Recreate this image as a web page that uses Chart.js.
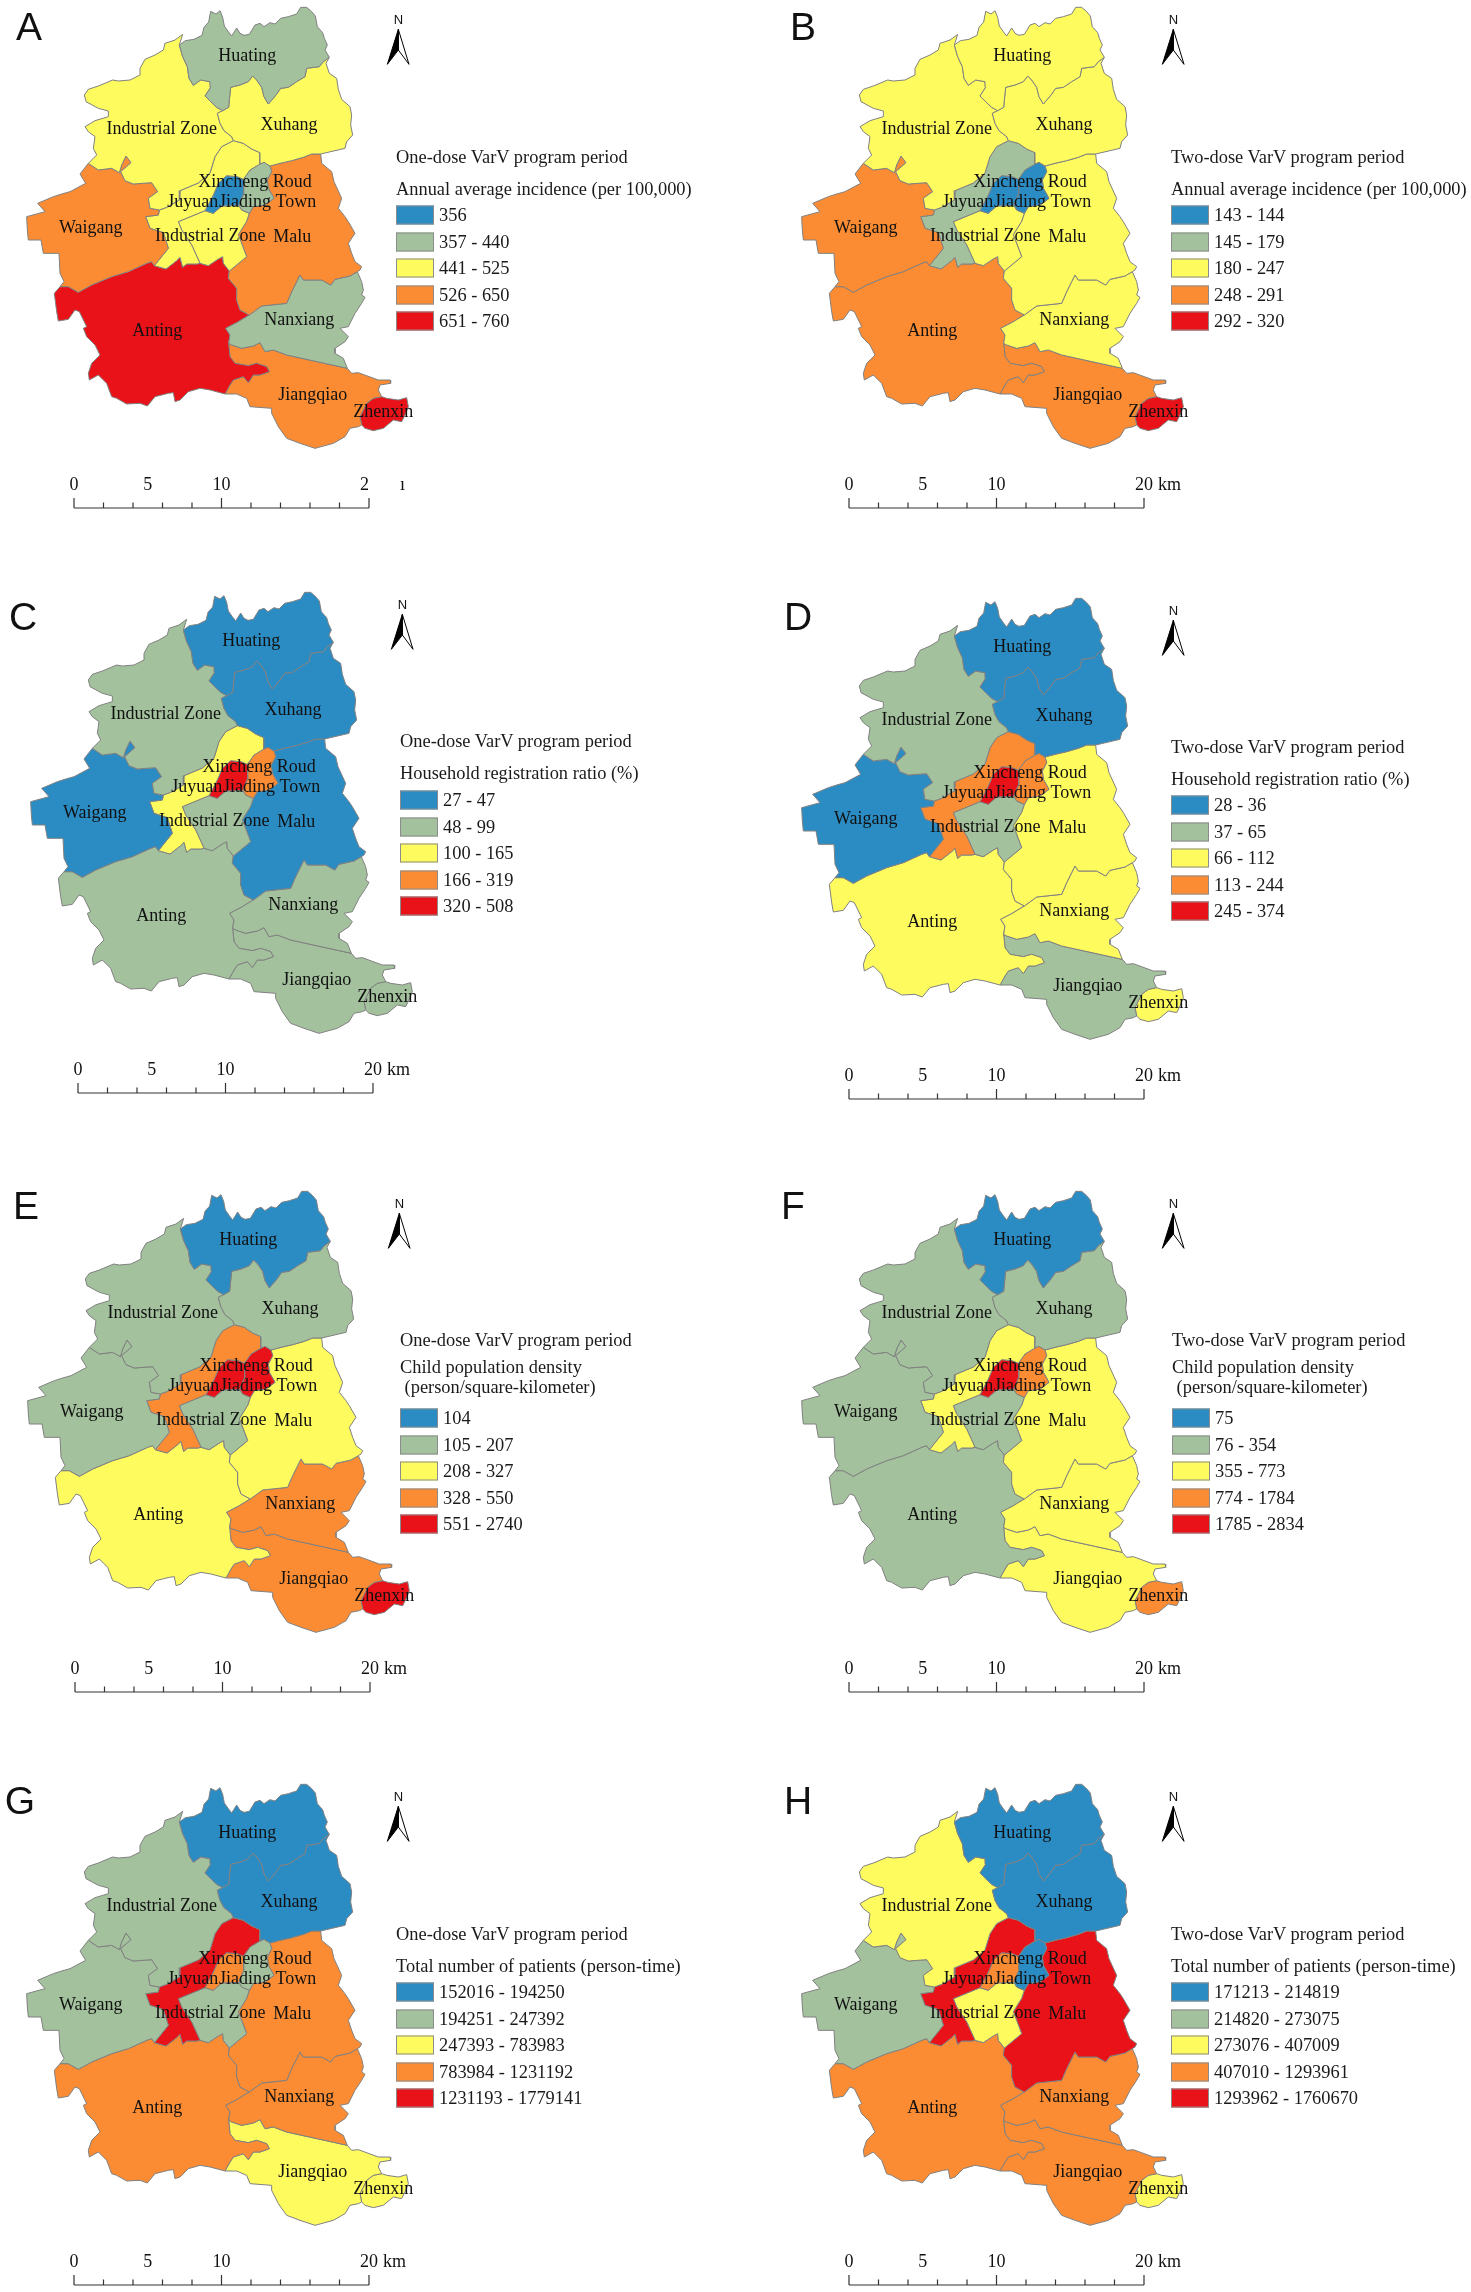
<!DOCTYPE html>
<html>
<head>
<meta charset="utf-8">
<title>VarV maps</title>
<script src="https://cdn.jsdelivr.net/npm/chart.js@4"></script>
<style>
html, body { margin: 0; padding: 0; background: #fff; }
#page { position: relative; width: 1471px; height: 2292px; overflow: hidden; font-family: "Liberation Serif", serif; color: #1a1a1a; }
canvas { position: absolute; }
.letter { position: absolute; font-family: "Liberation Sans", sans-serif; font-size: 39px; line-height: 39px; color: #111; transform: translate(-50%, -50%); }
.ltext { position: absolute; font-size: 18.4px; line-height: 20px; white-space: pre; transform: translateY(-50%); }
.swatch { position: absolute; width: 36px; height: 17px; border: 1px solid #8c8c8c; transform: translateY(-50%); }
</style>
</head>
<body>
<div id="page"></div>
<script>
// towns in the order used by the class lists below
const regionNames = ['Huating', 'Xuhang', 'Industrial Zone N', 'Waigang', 'Juyuan', 'Jiading Town', 'Xincheng Roud', 'Industrial Zone S', 'Malu', 'Nanxiang', 'Anting', 'Jiangqiao', 'Zhenxin'];

// class of each town per panel (0 = lowest class, 4 = highest)
const classesA = [1, 2, 2, 3, 2, 0, 1, 2, 3, 1, 4, 3, 4];
const classesB = [2, 2, 2, 3, 1, 0, 0, 2, 2, 2, 3, 3, 4];
const classesC = [0, 0, 1, 0, 2, 4, 3, 1, 0, 1, 1, 1, 1];
const classesD = [0, 0, 1, 0, 3, 4, 3, 1, 2, 2, 2, 1, 2];
const classesE = [0, 1, 1, 1, 3, 4, 4, 1, 2, 3, 2, 3, 4];
const classesF = [0, 1, 1, 1, 2, 4, 3, 1, 2, 2, 1, 2, 3];
const classesG = [0, 0, 1, 1, 4, 3, 1, 1, 3, 3, 3, 2, 2];
const classesH = [0, 0, 2, 1, 4, 3, 0, 2, 4, 3, 3, 3, 2];

const legendA = ['356', '357 - 440', '441 - 525', '526 - 650', '651 - 760'];
const legendB = ['143 - 144', '145 - 179', '180 - 247', '248 - 291', '292 - 320'];
const legendC = ['27 - 47', '48 - 99', '100 - 165', '166 - 319', '320 - 508'];
const legendD = ['28 - 36', '37 - 65', '66 - 112', '113 - 244', '245 - 374'];
const legendE = ['104', '105 - 207', '208 - 327', '328 - 550', '551 - 2740'];
const legendF = ['75', '76 - 354', '355 - 773', '774 - 1784', '1785 - 2834'];
const legendG = ['152016 - 194250', '194251 - 247392', '247393 - 783983', '783984 - 1231192', '1231193 - 1779141'];
const legendH = ['171213 - 214819', '214820 - 273075', '273076 - 407009', '407010 - 1293961', '1293962 - 1760670'];

const classColors = ['#2b8cc4', '#a2c19c', '#fdfb5e', '#fb8c33', '#e81218'];
const panelLetters = ['A', 'B', 'C', 'D', 'E', 'F', 'G', 'H'];
const panelClasses = [classesA, classesB, classesC, classesD, classesE, classesF, classesG, classesH];
const panelLegends = [legendA, legendB, legendC, legendD, legendE, legendF, legendG, legendH];
const periodTitles = ['One-dose VarV program period', 'Two-dose VarV program period'];
const measureTitles = [
  ['Annual average incidence (per 100,000)'],
  ['Household registration ratio (%)'],
  ['Child population density', ' (person/square-kilometer)'],
  ['Total number of patients (person-time)']
];

// scale bar
const scaleLabels = [0, 5, 10, 20];
const scaleTicks = [0, 2, 4, 6, 8, 10, 12, 14, 16, 18, 20];

// town borders, 44.25 units = 1 km, flat x,y lists
const hTop = [418,135, 436,122, 462,118, 486,106, 492,82, 506,66, 512,34, 528,42, 540,32, 548,52, 553,78, 565,95, 575,108, 590,84, 600,100, 612,106, 628,103, 645,75, 660,70, 672,80, 690,68, 705,72, 722,55, 745,50, 770,42, 782,22, 800,22, 815,35, 826,48, 832,80, 848,98, 853,115, 862,135, 855,150, 868,172];
const hx = [868,172, 850,185, 838,200, 800,205, 795,230, 770,245, 745,262, 722,265, 708,285, 685,312, 672,290, 665,262, 650,240, 638,228, 625,245, 600,255, 572,262, 568,300, 566,322, 548,332];
const hi = [548,332, 530,322, 512,305, 495,288, 512,262, 510,245, 482,240, 460,256, 447,235, 442,200, 428,170, 418,135];
const xOut = [868,172, 858,190, 868,220, 890,235, 895,268, 905,298, 930,320, 935,345, 932,375, 938,405, 920,425, 915,445, 842,462];
const xm = [842,462, 815,462, 790,472, 755,482, 720,490, 690,498];
const xe = [660,492, 672,487, 690,498];
const xl = [580,422, 610,430, 635,447, 660,458, 660,492];
const xi = [548,332, 532,340, 540,370, 552,392, 575,410, 580,422];
const iOut = [418,135, 428,103, 405,120, 375,130, 370,150, 345,165, 315,178, 300,205, 300,225, 270,240, 235,243, 218,240, 175,258, 145,268, 133,285, 138,305, 175,325, 205,333, 205,350, 165,362, 135,380, 145,395, 165,410, 160,445, 170,465, 145,490];
const iw = [145,490, 175,510, 215,505, 238,518, 245,495, 258,468, 273,488, 242,515, 255,542, 280,552, 335,548, 353,575, 325,595, 330,625, 358,630];
const il = [580,422, 545,440, 525,470, 510,519, 475,549, 420,572, 418,600, 380,622, 358,630];
const wl = [358,630, 355,645, 317,650, 330,685, 370,698, 385,745, 343,797];
const wOut = [145,490, 120,522, 137,550, 90,575, 65,582, 40,590, -7,610, 15,635, -40,650, -38,690, -35,720, 3,720, 10,760, 57,760, 60,820, 72,845, 60,860];
const wa = [60,860, 85,860, 115,877, 155,855, 215,830, 265,815, 320,790, 335,785, 343,797];
const la = [343,797, 378,807, 410,782, 420,772, 428,802, 440,792, 470,792, 480,790];
const ls = [480,790, 455,735, 425,690, 415,665, 495,632];
const sa = [480,790, 505,797, 535,777, 548,770, 550,790, 568,813];
const sm = [568,813, 620,770, 595,704, 620,664, 628,640];
const se = [628,640, 605,630, 597,616];
const sc = [597,616, 545,618, 520,640, 495,632];
const lc = [495,632, 520,585, 535,550, 560,527, 592,530, 610,538];
const ce = [610,538, 612,580, 600,605, 597,616];
const le = [610,538, 630,510, 655,495, 660,492];
const em = [690,498, 695,515, 682,540, 685,565, 702,595, 675,615, 640,620, 628,640];
const mOut = [842,462, 845,490, 875,515, 882,545, 905,595, 895,625, 915,650, 925,665, 945,700, 925,730, 935,760, 945,785, 965,800, 960,810, 952,815];
const mn = [952,815, 930,828, 885,838, 872,855, 845,840, 820,840, 790,840, 780,825, 770,845, 755,875, 740,910, 665,918, 628,945];
const ma = [568,813, 565,835, 590,865, 590,900, 600,930, 628,945];
const na = [628,945, 590,968, 557,985, 570,1005, 566,1030];
const nOut = [952,815, 965,845, 970,870, 965,885, 975,892, 965,910, 945,940, 925,980, 900,985, 925,1010, 915,1025, 885,1045, 885,1060, 910,1075, 922,1105];
const nj = [922,1105, 740,1065, 700,1050, 675,1055, 660,1028, 640,1038, 605,1045, 575,1035, 566,1030];
const aj = [566,1030, 570,1070, 585,1090, 625,1097, 650,1090, 680,1100, 688,1115, 660,1125, 640,1125, 625,1148, 610,1130, 580,1140, 570,1155, 555,1182];
const aOut = [555,1182, 510,1170, 480,1165, 445,1175, 420,1200, 405,1205, 400,1178, 385,1180, 345,1190, 322,1218, 300,1210, 260,1212, 230,1195, 215,1190, 200,1150, 175,1125, 148,1140, 145,1120, 155,1090, 180,1065, 165,1035, 140,1010, 130,985, 140,980, 118,935, 105,930, 85,958, 55,963, 50,935, 43,880, 60,860];
const jOut1 = [922,1105, 935,1120, 955,1118, 1015,1140, 1050,1140, 1052,1150, 1020,1155, 1015,1170, 1025,1190];
const jz = [1025,1190, 1000,1195, 980,1210, 960,1250, 965,1275];
const jOut2 = [965,1275, 955,1280, 930,1285, 915,1310, 880,1330, 825,1345, 780,1330, 740,1315, 715,1280, 695,1240, 695,1225, 630,1220, 620,1195, 590,1182, 555,1182];
const zOut = [1025,1190, 1040,1195, 1075,1200, 1100,1193, 1105,1220, 1095,1245, 1085,1265, 1060,1260, 1030,1285, 1000,1292, 975,1285, 965,1275];
const arrowLeft = [1075,88, 1042,193, 1075,150, 1075,88];
const arrowRight = [1075,88, 1107,193, 1075,150, 1075,88];

// flip a border so it can be walked the other way
function rev(a) {
  const out = [];
  for (let i = a.length - 2; i >= 0; i -= 2) out.push(a[i], a[i + 1]);
  return out;
}

// same order as regionNames
const regionBorders = [
  [hTop, hx, hi],
  [xOut, xm, rev(xe), rev(xl), rev(xi), rev(hx)],
  [rev(hi), xi, il, rev(iw), rev(iOut)],
  [iw, wl, rev(wa), rev(wOut)],
  [xl, rev(le), rev(lc), rev(ls), rev(la), rev(wl), rev(il)],
  [lc, ce, sc],
  [xe, em, se, rev(ce), le],
  [ls, rev(sc), rev(se), rev(sm), rev(sa)],
  [mOut, mn, rev(ma), sm, rev(em), rev(xm)],
  [nOut, nj, rev(na), rev(mn)],
  [wa, la, sa, ma, na, aj, aOut],
  [jOut1, jz, jOut2, rev(aj), rev(nj)],
  [zOut, rev(jz)]
];

const mapLabels = ['Huating', 'Industrial Zone', 'Xuhang', 'Xincheng Roud', 'Juyuan', 'Jiading Town', 'Industrial Zone', 'Malu', 'Waigang', 'Anting', 'Nanxiang', 'Jiangqiao', 'Zhenxin'];
const mapLabelX = [622, 365, 747, 645, 458, 683, 511, 757, 152, 352, 778, 818, 1030];
const mapLabelY = [168, 388, 375, 547, 607, 607, 710, 712, 685, 993, 962, 1185, 1237];

// panel placement on the page
const panelLeft = [0, 775, 4, 775, 1, 775, 0, 775];
const panelTop = [0, 0, 585, 591, 1184, 1184, 1777, 1777];
const letterX = [29, 803, 23, 798, 26, 793, 20, 798];
const letterY = [26, 26, 616, 616, 1205, 1205, 1800, 1800];
const legendX = [396, 1171, 400, 1171, 400, 1172, 396, 1171];
const title1Y = [157, 157, 741, 747, 1340, 1340, 1934, 1934];
const title2Y = [189, 189, 773, 779, 1367, 1367, 1966, 1966];
const rowY0 = [215, 215, 800, 805, 1418, 1418, 1992, 1992];
const rowStep = 26.6;

const CANVAS_W = 450, CANVAS_H = 515;
const PX_PER_KM = 14.75, ORIGIN_X = 74, ORIGIN_Y = 508;
const UNITS_PER_KM = PX_PER_KM * 3;

// traced units to km from the left end of the scale bar
function toKmX(x) { return (x - 102) / UNITS_PER_KM; }
function toKmY(y) { return (ORIGIN_Y * 3 - y) / UNITS_PER_KM; }

function toPoints(flat) {
  const pts = [];
  for (let i = 0; i < flat.length; i += 2) pts.push({x: toKmX(flat[i]), y: toKmY(flat[i + 1])});
  return pts;
}

function buildScaleBar() {
  const pts = [{x: 0, y: 0}, {x: 20, y: 0}, {x: 20, y: null}];
  scaleTicks.forEach(t => {
    const h = t % 10 === 0 ? 0.68 : 0.38;
    pts.push({x: t, y: 0}, {x: t, y: h}, {x: t, y: null});
  });
  return pts;
}

const page = document.getElementById('page');

function addText(cls, txt, left, top) {
  const d = document.createElement('div');
  d.className = cls;
  d.textContent = txt;
  d.style.left = left + 'px';
  d.style.top = top + 'px';
  page.appendChild(d);
}

// names, N and km are written straight on the canvas through the scales
const mapText = {
  id: 'mapText',
  afterDatasetsDraw(chart, args, opts) {
    const {ctx, scales: {x, y}} = chart;
    ctx.save();
    ctx.fillStyle = '#111';
    ctx.textAlign = 'center';
    ctx.textBaseline = 'middle';
    ctx.font = '18px "Liberation Serif"';
    mapLabels.forEach((t, i) => {
      ctx.fillText(t, x.getPixelForValue(toKmX(mapLabelX[i])), y.getPixelForValue(toKmY(mapLabelY[i])));
    });
    ctx.font = '13px "Liberation Sans"';
    ctx.fillText('N', x.getPixelForValue(toKmX(1075)), y.getPixelForValue(toKmY(61)));
    ctx.font = '18px "Liberation Serif"';
    ctx.textAlign = 'left';
    const unitY = y.getPixelForValue(toKmY(1456));
    if (opts.cut) ctx.fillText('ı', x.getPixelForValue(20) + 31, unitY);
    else ctx.fillText('km', x.getPixelForValue(20) + 14, unitY);
    ctx.restore();
  }
};

panelLetters.forEach((letter, p) => {
  const canvas = document.createElement('canvas');
  canvas.width = CANVAS_W;
  canvas.height = CANVAS_H;
  canvas.style.left = panelLeft[p] + 'px';
  canvas.style.top = panelTop[p] + 'px';
  page.appendChild(canvas);

  const cut = letter === 'A';  // the source picture lost the end of the bar label in A
  const datasets = regionBorders.map((parts, i) => ({
    label: regionNames[i],
    data: toPoints(parts.flat()),
    showLine: true,
    fill: 'shape',
    backgroundColor: classColors[panelClasses[p][i]],
    borderColor: '#808080',
    borderWidth: 1,
    pointRadius: 0,
    tension: 0
  }));
  datasets.push({data: toPoints(arrowLeft), showLine: true, fill: 'shape', backgroundColor: '#000', borderColor: '#000', borderWidth: 1, pointRadius: 0});
  datasets.push({data: toPoints(arrowRight), showLine: true, fill: 'shape', backgroundColor: '#fff', borderColor: '#000', borderWidth: 1, pointRadius: 0});
  datasets.push({data: buildScaleBar(), showLine: true, fill: false, spanGaps: false, borderColor: '#333', borderWidth: 1.2, pointRadius: 0});

  new Chart(canvas.getContext('2d'), {
    type: 'scatter',
    data: {datasets},
    options: {
      responsive: false,
      animation: false,
      devicePixelRatio: 1,
      layout: {padding: 0},
      plugins: {legend: {display: false}, tooltip: {enabled: false}, mapText: {cut}},
      scales: {
        x: {
          type: 'linear',
          position: {y: toKmY(1423)},
          min: -ORIGIN_X / PX_PER_KM,
          max: (CANVAS_W - ORIGIN_X) / PX_PER_KM,
          afterBuildTicks: axis => { axis.ticks = scaleLabels.map(v => ({value: v})); },
          grid: {display: false, drawTicks: false},
          border: {display: false},
          ticks: {
            autoSkip: false,
            maxRotation: 0,
            padding: 0,
            color: '#111',
            font: {family: 'Liberation Serif', size: 18},
            callback: v => (v === 20 && cut) ? '2\u00a0\u00a0' : v
          }
        },
        y: {
          display: false,
          min: (ORIGIN_Y - CANVAS_H) / PX_PER_KM,
          max: ORIGIN_Y / PX_PER_KM
        }
      }
    },
    plugins: [mapText]
  });

  // legend block
  addText('letter', letter, letterX[p], letterY[p]);
  const lx = legendX[p];
  addText('ltext', periodTitles[p % 2], lx, title1Y[p]);
  const measure = measureTitles[Math.floor(p / 2)];
  measure.forEach((t, i) => addText('ltext', t, lx, title2Y[p] + i * 20));
  panelLegends[p].forEach((t, i) => {
    const ry = rowY0[p] + i * rowStep;
    const sw = document.createElement('div');
    sw.className = 'swatch';
    sw.style.left = lx + 'px';
    sw.style.top = ry + 'px';
    sw.style.background = classColors[i];
    page.appendChild(sw);
    addText('ltext', t, lx + 43, ry);
  });
});
</script>
</body>
</html>
